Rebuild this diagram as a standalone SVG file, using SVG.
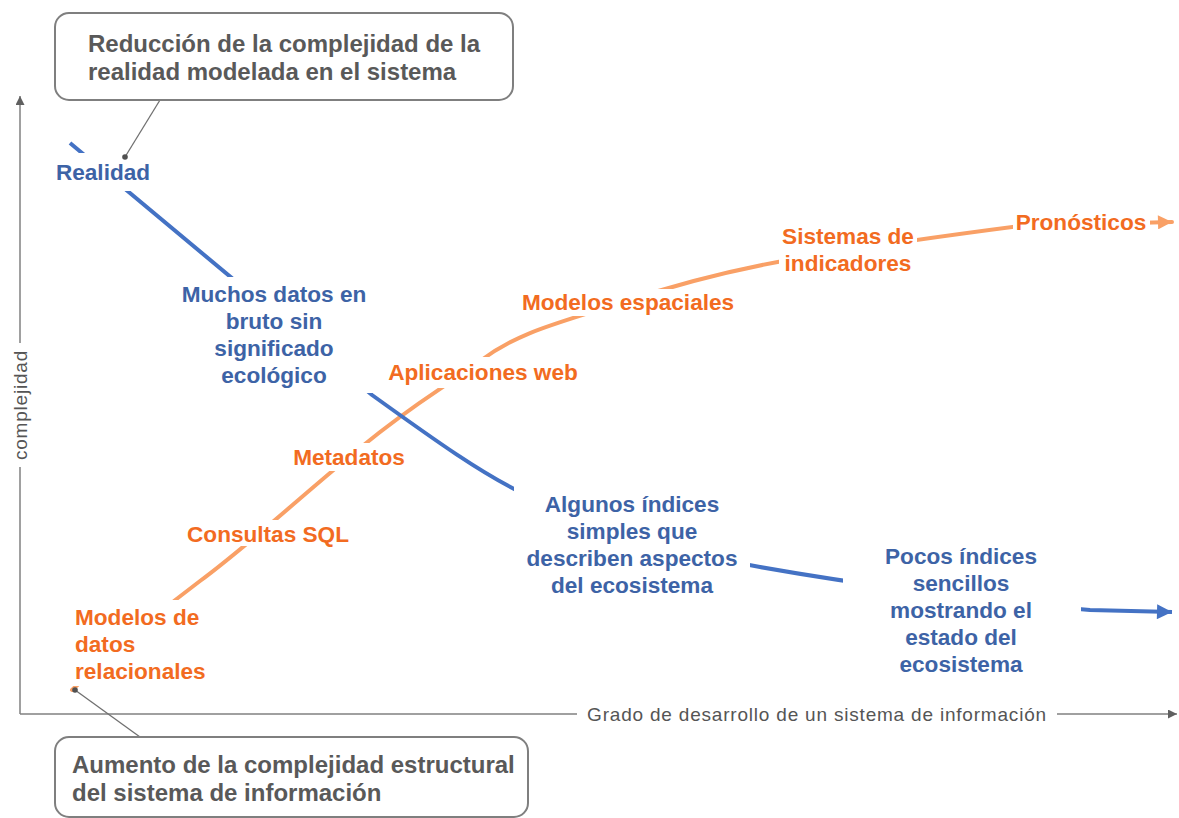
<svg xmlns="http://www.w3.org/2000/svg" width="1179" height="818" viewBox="0 0 1179 818">
<defs>
<style>
.lblB{font-family:"Liberation Sans",Arial,sans-serif;font-weight:bold;font-size:22.6px;fill:#3D63A6;text-anchor:middle}
.lblO{font-family:"Liberation Sans",Arial,sans-serif;font-weight:bold;font-size:22.6px;fill:#F26B21;text-anchor:middle}
.lft{text-anchor:start}
.call{font-family:"Liberation Sans",Arial,sans-serif;font-weight:bold;font-size:24px;fill:#595959}
.axt{font-family:"Liberation Sans",Arial,sans-serif;font-size:19px;letter-spacing:0.8px;fill:#555555;text-anchor:middle}
.bg{fill:#ffffff}
.box{fill:#ffffff;stroke:#7F7F7F;stroke-width:2}
.axis{stroke:#808080;stroke-width:1.5;fill:none}
.lead{stroke:#707070;stroke-width:1.3;fill:none}
</style>
<marker id="arrB" viewBox="0 0 10 10" refX="10" refY="5" markerWidth="18" markerHeight="15" markerUnits="userSpaceOnUse" orient="auto"><path d="M0,0 L10,5 L0,10 z" fill="#4472C4"/></marker>
<marker id="arrO" viewBox="0 0 10 10" refX="10" refY="5" markerWidth="16" markerHeight="14" markerUnits="userSpaceOnUse" orient="auto"><path d="M0,0 L10,5 L0,10 z" fill="#F9A066"/></marker>
<marker id="arrA" viewBox="0 0 10 10" refX="10" refY="5" markerWidth="9" markerHeight="9" markerUnits="userSpaceOnUse" orient="auto"><path d="M0,0 L10,5 L0,10 z" fill="#606060"/></marker>
</defs>
<rect width="1179" height="818" fill="#ffffff"/>

<g id="axes">
<path class="axis" d="M20,714 L20,96" marker-end="url(#arrA)"/>
<path class="axis" d="M20,714 L1177,714" marker-end="url(#arrA)"/>
<rect class="bg" x="8" y="343" width="26" height="124"/>
<text class="axt" transform="translate(27,405) rotate(-90)">complejidad</text>
<rect class="bg" x="577" y="702" width="480" height="24"/>
<text class="axt" x="817" y="721">Grado de desarrollo de un sistema de información</text>
</g>

<g id="connectors">
<path d="M72,690 C120,646 150,618 200,581 S300,497 360,448 S440,391 480,361 S560,323 620,303 S740,268 800,258 S950,235 1020,226 L1172,222" fill="none" stroke="#F9A066" stroke-width="4" stroke-linecap="round" marker-end="url(#arrO)"/>
<path d="M70,143 L372,395 C440,444 480,472 520,492 C600,530 680,553 760,567 C850,583 980,601 1090,610 L1172,612" fill="none" stroke="#4472C4" stroke-width="4" marker-end="url(#arrB)"/>
</g>

<g id="realidad"><rect class="bg" x="48" y="153" width="110" height="38"/><text class="lblB" x="103" y="180">Realidad</text></g>
<g id="muchos"><rect class="bg" x="172" y="277" width="205" height="116"/>
<text class="lblB" x="274" y="302">Muchos datos en</text><text class="lblB" x="274" y="329">bruto sin</text><text class="lblB" x="274" y="356">significado</text><text class="lblB" x="274" y="383">ecológico</text></g>
<g id="algunos"><rect class="bg" x="514" y="486" width="236" height="114"/>
<text class="lblB" x="632" y="512">Algunos índices</text><text class="lblB" x="632" y="539">simples que</text><text class="lblB" x="632" y="566">describen aspectos</text><text class="lblB" x="632" y="593">del ecosistema</text></g>
<g id="pocos"><rect class="bg" x="843" y="538" width="238" height="142"/>
<text class="lblB" x="961" y="564">Pocos índices</text><text class="lblB" x="961" y="591">sencillos</text><text class="lblB" x="961" y="618">mostrando el</text><text class="lblB" x="961" y="645">estado del</text><text class="lblB" x="961" y="672">ecosistema</text></g>

<g id="modelosdatos"><rect class="bg" x="70" y="600" width="138" height="86"/>
<text class="lblO lft" x="75" y="625">Modelos de</text><text class="lblO lft" x="75" y="652">datos</text><text class="lblO lft" x="75" y="679">relacionales</text></g>
<g id="consultas"><rect class="bg" x="184" y="520" width="170" height="26"/><text class="lblO" x="268" y="542">Consultas SQL</text></g>
<g id="metadatos"><rect class="bg" x="289" y="443" width="120" height="28"/><text class="lblO" x="349" y="465">Metadatos</text></g>
<g id="aplicaciones"><rect class="bg" x="384" y="357" width="198" height="31"/><text class="lblO" x="483" y="380">Aplicaciones web</text></g>
<g id="espaciales"><rect class="bg" x="517" y="289" width="224" height="27"/><text class="lblO" x="628" y="310">Modelos espaciales</text></g>
<g id="sistemas"><rect class="bg" x="779" y="220" width="138" height="58"/>
<text class="lblO" x="848" y="244">Sistemas de</text><text class="lblO" x="848" y="271">indicadores</text></g>
<g id="pronosticos"><rect class="bg" x="1013" y="208" width="137" height="28"/><text class="lblO" x="1081" y="230">Pronósticos</text></g>

<g id="callout-top">
<path class="lead" d="M160,100 L125,157"/><circle cx="125" cy="157" r="2.8" fill="#505050"/>
<rect class="box" x="55" y="13" width="458" height="87" rx="14"/>
<text class="call" x="88" y="52">Reducción de la complejidad de la</text>
<text class="call" x="88" y="80">realidad modelada en el sistema</text>
</g>
<g id="callout-bottom">
<path class="lead" d="M140,737 L75,690"/><circle cx="75" cy="690" r="2.8" fill="#505050"/>
<rect class="box" x="55" y="737" width="473" height="80" rx="14"/>
<text class="call" x="72" y="773">Aumento de la complejidad estructural</text>
<text class="call" x="72" y="801">del sistema de información</text>
</g>
</svg>
